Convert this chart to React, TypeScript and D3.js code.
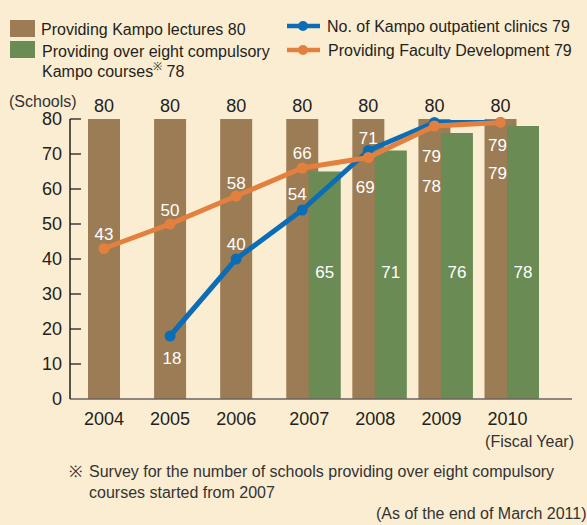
import React from 'react';
import * as d3 from 'd3';

// values
const years = ['2004', '2005', '2006', '2007', '2008', '2009', '2010'];
const lectures = [80, 80, 80, 80, 80, 80, 80];
const courseYears = ['2007', '2008', '2009', '2010'];
const courses = [65, 71, 76, 78];
const clinicYears = ['2005', '2006', '2007', '2008', '2009', '2010'];
const clinics = [18, 40, 54, 71, 79, 79];
const fdYears = years;
const facultyDev = [43, 50, 58, 66, 69, 78, 79];
const yTicks = [0, 10, 20, 30, 40, 50, 60, 70, 80];

// where each white value label sits relative to its point [dx, dy]
const clinicLabelPos = [[2, 22], [0, -15], [-5, -16], [0, -12], [-3, 34], [-3, 23]];
const fdLabelPos = [[0, -14], [0, -14], [0, -13], [0, -15], [-3, 30], [-3, 60], [-3, 51]];

const W = 587;
const H = 525;
const BG = '#FBEDD2';
const BROWN = '#9C7C54';
const GREEN = '#6A8B53';
const BLUE = '#0B6DB5';
const ORANGE = '#E3803D';
const INK = '#231F20';
const FONT = '"Liberation Sans", Arial, Helvetica, sans-serif';

const App = () => {
  const x = d3.scalePoint<string>().domain(years).range([104, 500.5]);
  const y = d3.scaleLinear().domain([0, 80]).range([399, 119]);
  const barW = 32;
  const greenOff = 6.5;

  const line = d3
    .line<[string, number]>()
    .x((d) => x(d[0]) as number)
    .y((d) => y(d[1]));

  const clinicPts: [string, number][] = clinicYears.map((yr, i) => [yr, clinics[i]]);
  const fdPts: [string, number][] = fdYears.map((yr, i) => [yr, facultyDev[i]]);

  const label = { fontFamily: FONT, fill: '#fff', fontSize: 17, textAnchor: 'middle' as const, dominantBaseline: 'central' as const };

  return (
    <div style={{ position: 'absolute', left: 0, top: 0 }}>
      <svg width={W} height={H} viewBox={`0 0 ${W} ${H}`} style={{ display: 'block' }}>
        <rect width={W} height={H} fill={BG} />

        {/* legend */}
        <g fontFamily={FONT} fontSize={16} fill={INK} dominantBaseline="central">
          <rect x={10} y={20} width={25} height={17} fill={BROWN} />
          <text x={41} y={29}>Providing Kampo lectures 80</text>
          <rect x={10} y={41} width={25} height={17} fill={GREEN} />
          <text x={42} y={51}>Providing over eight compulsory</text>
          <text x={42} y={71}>Kampo courses<tspan fontSize={11} dy={-5}>※</tspan><tspan dy={5}> 78</tspan></text>
          <line x1={287} x2={320} y1={26} y2={26} stroke={BLUE} strokeWidth={4.5} />
          <circle cx={303} cy={26} r={5} fill={BLUE} />
          <text x={327} y={26}>No. of Kampo outpatient clinics 79</text>
          <line x1={287} x2={320} y1={50} y2={50} stroke={ORANGE} strokeWidth={4.5} />
          <circle cx={303} cy={50} r={5} fill={ORANGE} />
          <text x={328} y={50}>Providing Faculty Development 79</text>
        </g>

        {/* bars */}
        {years.map((yr, i) => (
          <rect key={'b' + yr} x={(x(yr) as number) - barW / 2} y={y(lectures[i])} width={barW} height={y(0) - y(lectures[i])} fill={BROWN} />
        ))}
        {courseYears.map((yr, i) => (
          <rect key={'g' + yr} x={(x(yr) as number) + greenOff} y={y(courses[i])} width={barW} height={y(0) - y(courses[i])} fill={GREEN} />
        ))}

        {/* axes */}
        <line x1={70} x2={572} y1={y(0)} y2={y(0)} stroke="#6b6460" strokeWidth={1.5} />
        <line x1={70} x2={70} y1={y(80)} y2={y(0)} stroke={INK} strokeWidth={1.5} />
        {yTicks.map((t) => (
          <g key={'t' + t}>
            {t > 0 && <line x1={70} x2={81} y1={y(t)} y2={y(t)} stroke={INK} strokeWidth={1.3} />}
            <text x={62} y={y(t)} fontFamily={FONT} fontSize={18} fill={INK} textAnchor="end" dominantBaseline="central">{t}</text>
          </g>
        ))}
        <text x={9} y={101} fontFamily={FONT} fontSize={16} fill="#333" dominantBaseline="central">(Schools)</text>
        {years.map((yr) => (
          <text key={'x' + yr} x={(x(yr) as number) + (courseYears.includes(yr) ? 7 : 0)} y={419} fontFamily={FONT} fontSize={18} fill={INK} textAnchor="middle" dominantBaseline="central">{yr}</text>
        ))}
        <text x={574} y={441} fontFamily={FONT} fontSize={16} fill="#333" textAnchor="end" dominantBaseline="central">(Fiscal Year)</text>

        {/* top totals */}
        {years.map((yr, i) => (
          <text key={'v' + yr} x={x(yr) as number} y={y(lectures[i]) - 13} fontFamily={FONT} fontSize={18} fill={INK} textAnchor="middle" dominantBaseline="central">{lectures[i]}</text>
        ))}

        {/* lines */}
        <path d={line(clinicPts) ?? ''} fill="none" stroke={BLUE} strokeWidth={5} strokeLinejoin="round" />
        {clinicPts.map((d) => (
          <circle key={'c' + d[0]} cx={x(d[0]) as number} cy={y(d[1])} r={5.5} fill={BLUE} />
        ))}
        <path d={line(fdPts) ?? ''} fill="none" stroke={ORANGE} strokeWidth={5} strokeLinejoin="round" />
        {fdPts.map((d) => (
          <circle key={'o' + d[0]} cx={x(d[0]) as number} cy={y(d[1])} r={5.5} fill={ORANGE} />
        ))}

        {/* white value labels */}
        {courseYears.map((yr, i) => (
          <text key={'gl' + yr} x={(x(yr) as number) + greenOff + barW / 2} y={272} {...label}>{courses[i]}</text>
        ))}
        {clinicPts.map((d, i) => (
          <text key={'cl' + d[0]} x={(x(d[0]) as number) + clinicLabelPos[i][0]} y={y(d[1]) + clinicLabelPos[i][1]} {...label}>{d[1]}</text>
        ))}
        {fdPts.map((d, i) => (
          <text key={'ol' + d[0]} x={(x(d[0]) as number) + fdLabelPos[i][0]} y={y(d[1]) + fdLabelPos[i][1]} {...label}>{d[1]}</text>
        ))}

        {/* notes */}
        <g fontFamily={FONT} fontSize={16} fill="#333" dominantBaseline="central">
          <text x={69} y={471}>※</text>
          <text x={89} y={471}>Survey for the number of schools providing over eight compulsory</text>
          <text x={89} y={492}>courses started from 2007</text>
          <text x={376} y={513}>(As of the end of March 2011)</text>
        </g>
      </svg>
    </div>
  );
};

export default App;
